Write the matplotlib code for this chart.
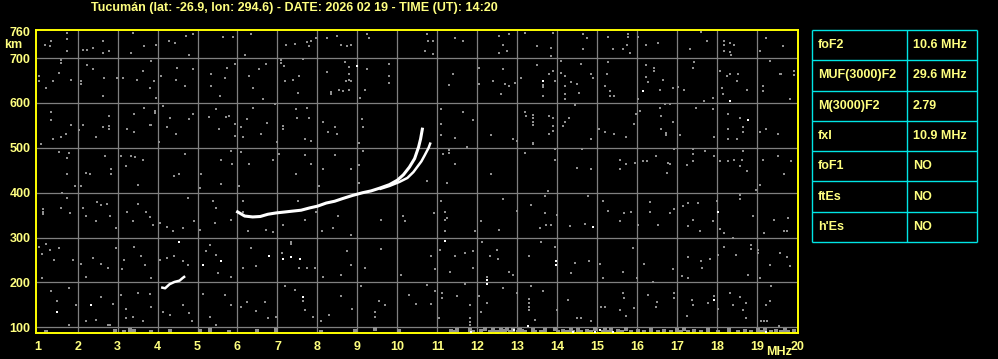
#!/usr/bin/env python3
"""
Ionogramm Tucumán: F2-Spur (O und X), E-Spur, Rauschpunkte und Parametertabelle.
Speichert das Bild als 'out.png'.
"""

import matplotlib
matplotlib.use('Agg')
import matplotlib.pyplot as plt

TITLE = "Tucumán (lat: -26.9, lon: 294.6) - DATE: 2026 02 19 - TIME (UT): 14:20"

freq_ticks = list(range(1, 21))
height_ticks = [100, 200, 300, 400, 500, 600, 700, 760]
grid_freqs = list(range(2, 20))
grid_heights = [100, 200, 300, 400, 500, 600, 700]

# F2-Spur, ordentliche Komponente (MHz, km)
o_mhz = [5.97, 6.18, 6.38, 6.57, 6.76, 6.97, 7.18, 7.38, 7.59, 7.80, 8.00, 8.22, 8.43,
         8.63, 8.88, 9.13, 9.34, 9.55, 9.80, 10.00, 10.15, 10.30, 10.43, 10.53, 10.58, 10.63]
o_km = [359, 348, 346, 347, 352, 355, 357, 359, 361, 366, 370, 377, 381,
        387, 394, 400, 404, 410, 418, 428, 440, 457, 476, 502, 520, 545]

# F2-Spur, ausserordentliche Komponente
x_mhz = [9.55, 9.80, 10.05, 10.25, 10.40, 10.50, 10.60, 10.68, 10.78, 10.83]
x_km = [408, 415, 424, 433, 446, 458, 470, 483, 500, 512]

# E-Spur
e_mhz = [4.09, 4.19, 4.30, 4.42, 4.55, 4.63, 4.69]
e_km = [189, 187, 196, 201, 204, 210, 214]

# Rauschpunkte (grau)
noise_points = [
    # 700-760 km
    (1.34, 738), (1.18, 730), (1.30, 727), (1.73, 756), (1.73, 742), (1.73, 716),
    (2.13, 719), (2.23, 719), (2.38, 723), (2.63, 738), (2.63, 712), (2.78, 717),
    (3.38, 756), (3.34, 712), (3.67, 727), (3.97, 730), (4.28, 738), (4.43, 734),
    (4.70, 749), (4.88, 753), (4.78, 708), (5.63, 747), (5.88, 747), (6.19, 708),
    (6.34, 753), (7.22, 730), (7.45, 732), (7.73, 736), (7.84, 739), (7.78, 727),
    (7.97, 745), (8.23, 744), (8.50, 749), (8.58, 730), (8.73, 726), (8.83, 730),
    (9.23, 753), (9.28, 744), (10.73, 753), (10.89, 738), (10.77, 739), (10.68, 717),
    (10.89, 710), (11.43, 745), (11.64, 739), (12.53, 749), (12.64, 730), (12.53, 712),
    (12.73, 717), (12.78, 753), (13.18, 756), (13.49, 727), (13.83, 723), (13.89, 756),
    (14.64, 753), (14.73, 744), (14.64, 721), (15.28, 747), (15.39, 721), (15.78, 753),
    (15.78, 746), (15.75, 730), (15.64, 721), (15.82, 712), (16.03, 747), (16.23, 730),
    (16.53, 734), (17.33, 721), (17.60, 759), (17.75, 738), (18.18, 739), (18.18, 729),
    (18.18, 717), (18.33, 734), (18.33, 714), (18.43, 730), (18.35, 708), (19.23, 744),
    (19.08, 717), (19.64, 727),
    # 600-700 km
    (1.03, 660), (1.03, 649), (1.38, 649), (1.53, 666), (1.20, 634), (1.58, 695),
    (1.58, 690), (1.84, 652), (2.09, 648), (2.09, 642), (2.23, 684), (2.38, 675),
    (2.67, 656), (2.63, 615), (2.98, 656), (3.13, 656), (3.49, 652), (3.63, 671),
    (3.80, 634), (3.92, 649), (3.84, 693), (3.97, 612), (4.09, 660), (4.48, 678),
    (4.45, 652), (4.69, 638), (4.88, 675), (5.34, 665), (5.34, 638), (5.68, 656),
    (5.73, 678), (5.55, 615), (5.94, 688), (6.28, 660), (6.40, 634), (6.53, 675),
    (6.72, 688), (6.65, 608), (7.09, 695), (7.09, 690), (7.17, 682), (7.19, 649),
    (7.38, 652), (7.53, 660), (7.63, 698), (7.51, 623), (8.23, 669), (8.34, 625),
    (8.34, 619), (8.55, 630), (8.70, 691), (8.78, 680), (8.80, 664), (8.80, 652),
    (8.84, 649), (8.72, 649), (8.65, 626), (8.78, 630), (9.07, 612), (9.20, 630),
    (9.24, 675), (9.78, 686), (9.78, 660), (9.78, 645), (11.39, 665), (11.28, 641),
    (12.03, 678), (12.03, 643), (12.39, 649), (12.70, 643), (12.78, 638), (12.58, 621),
    (12.64, 675), (12.93, 645), (13.10, 656), (13.50, 684), (13.64, 641), (13.64, 636),
    (13.64, 615), (13.78, 665), (13.89, 672), (13.95, 649), (13.84, 704), (14.08, 693),
    (14.08, 667), (14.18, 660), (14.33, 647), (14.18, 638), (14.18, 621), (14.18, 608),
    (14.50, 643), (14.53, 623), (14.58, 686), (14.83, 665), (14.89, 655), (15.18, 638),
    (15.28, 692), (15.24, 665), (15.33, 626), (15.31, 615), (15.43, 615), (16.03, 608),
    (16.23, 685), (16.23, 657), (16.27, 646), (16.43, 677), (16.43, 671), (16.64, 652),
    (16.58, 630), (16.89, 634), (17.03, 635), (17.18, 630), (17.43, 692), (17.39, 678),
    (17.68, 604), (17.89, 612), (18.08, 671), (18.12, 634), (18.14, 619), (18.25, 660),
    (18.33, 664), (18.50, 649), (18.53, 665), (18.75, 630), (19.14, 638), (19.14, 626),
    (19.33, 693), (19.56, 665), (19.60, 665), (19.83, 608), (19.93, 671), (19.93, 663),
    # 500-600 km
    (1.34, 580), (1.34, 563), (1.09, 509), (1.38, 519), (1.58, 524), (1.70, 531),
    (1.84, 550), (2.03, 539), (2.13, 550), (2.45, 524), (2.63, 546), (2.78, 548),
    (2.78, 543), (2.78, 571), (3.23, 541), (3.40, 576), (3.42, 536), (3.65, 589),
    (3.80, 552), (3.84, 550), (3.94, 583), (3.94, 578), (4.03, 513), (4.13, 594),
    (4.24, 546), (4.30, 567), (4.45, 531), (4.78, 565), (4.88, 576), (5.28, 568),
    (5.47, 586), (5.53, 541), (5.70, 568), (5.80, 571), (5.94, 554), (5.93, 527),
    (6.08, 546), (6.13, 524), (6.24, 565), (6.38, 589), (6.59, 531), (6.73, 556),
    (6.93, 597), (7.13, 548), (7.13, 543), (6.99, 513), (7.47, 586), (7.48, 567),
    (7.73, 589), (7.78, 567), (7.70, 519), (7.84, 515), (8.13, 558), (8.26, 536),
    (8.43, 546), (8.49, 531), (9.12, 565), (9.15, 546), (9.03, 511), (11.08, 586),
    (11.08, 554), (11.08, 528), (11.43, 523), (11.64, 580), (11.89, 563), (12.33, 528),
    (12.89, 519), (12.99, 515), (13.19, 580), (13.22, 571), (13.39, 574), (13.39, 566),
    (13.39, 558), (13.39, 550), (13.39, 511), (13.78, 571), (13.89, 567), (13.89, 548),
    (13.89, 537), (13.78, 530), (14.14, 548), (14.18, 558), (14.28, 567), (14.43, 595),
    (14.83, 519), (15.03, 541), (15.18, 536), (15.43, 531), (15.73, 524), (15.93, 554),
    (15.98, 576), (16.08, 583), (16.58, 589), (16.59, 571), (16.59, 541), (16.72, 534),
    (16.72, 528), (16.70, 597), (16.83, 597), (16.89, 558), (17.08, 528), (17.48, 589),
    (17.89, 586), (17.93, 524), (18.28, 576), (18.28, 541), (18.27, 519), (18.50, 519),
    (18.58, 567), (18.64, 546), (18.64, 535), (19.08, 536), (19.23, 541), (19.53, 530),
    # 400-500 km
    (1.53, 491), (1.78, 489), (1.73, 478), (1.73, 441), (2.20, 444), (2.32, 441),
    (2.68, 481), (2.84, 452), (2.84, 442), (3.09, 481), (3.22, 459), (3.34, 481),
    (3.43, 479), (3.63, 474), (4.40, 437), (4.53, 442), (4.69, 487), (5.09, 441),
    (5.59, 474), (5.84, 493), (5.87, 463), (6.08, 491), (6.30, 463), (6.90, 474),
    (7.03, 487), (7.47, 441), (7.70, 483), (7.84, 463), (8.13, 452), (8.43, 483),
    (8.84, 452), (9.03, 461), (9.15, 493), (11.28, 495), (11.28, 489), (11.14, 487),
    (11.43, 465), (11.75, 502), (12.33, 442), (13.19, 489), (13.39, 508), (13.93, 497),
    (13.93, 474), (14.50, 455), (14.62, 497), (14.83, 452), (15.58, 474), (15.58, 452),
    (15.73, 463), (15.95, 467), (16.14, 470), (16.24, 470), (16.47, 481), (16.78, 467),
    (16.81, 463), (16.74, 444), (16.93, 497), (17.24, 461), (17.39, 497), (17.39, 487),
    (17.39, 470), (17.70, 493), (17.93, 481), (18.08, 470), (18.27, 470), (18.41, 474),
    (18.61, 474), (18.64, 493), (18.58, 459), (18.75, 448), (19.14, 474), (19.51, 481),
    (19.84, 470), (19.68, 441),
    # 300-400 km
    (1.13, 364), (1.13, 358), (1.13, 352), (1.62, 399), (1.59, 366), (1.73, 388),
    (1.80, 355), (1.93, 416), (2.09, 416), (2.13, 367), (2.20, 347), (2.45, 336),
    (2.48, 379), (2.59, 372), (2.73, 374), (2.80, 349), (2.95, 321), (3.23, 358),
    (3.38, 336), (3.51, 418), (3.51, 375), (3.70, 358), (3.80, 345), (3.88, 329),
    (4.07, 332), (4.23, 323), (4.38, 315), (4.63, 321), (4.76, 388), (4.90, 336),
    (5.07, 317), (5.05, 410), (5.38, 382), (5.45, 367), (5.59, 419), (5.43, 332),
    (5.84, 340), (6.03, 414), (6.13, 381), (6.13, 358), (6.27, 315), (6.72, 317),
    (6.88, 312), (7.15, 329), (7.51, 382), (7.70, 340), (7.97, 358), (8.03, 414),
    (8.12, 315), (8.38, 321), (8.51, 349), (8.84, 306), (9.03, 422), (9.59, 340),
    (10.13, 347), (10.20, 337), (10.73, 427), (11.25, 422), (10.92, 355), (11.18, 358),
    (11.18, 340), (11.25, 344), (11.18, 314), (11.08, 382), (11.95, 314), (12.08, 338),
    (12.53, 317), (12.64, 387), (12.98, 360), (13.33, 373), (13.56, 321), (13.68, 355),
    (13.72, 329), (13.83, 329), (13.68, 392), (13.77, 404), (13.98, 351), (14.31, 325),
    (14.68, 330), (14.77, 392), (15.14, 382), (15.28, 360), (15.56, 336), (15.68, 355),
    (15.84, 358), (16.03, 329), (16.33, 379), (16.33, 358), (16.52, 329), (16.81, 355),
    (16.93, 364), (17.14, 370), (17.28, 377), (17.39, 340), (17.52, 377), (17.28, 325),
    (17.58, 315), (17.89, 338), (17.99, 381), (18.08, 319), (18.16, 311), (18.39, 300),
    (18.58, 396), (18.58, 387), (18.89, 347), (19.18, 311), (19.43, 340), (19.68, 314),
    (19.74, 314), (19.77, 344), (18.98, 407), (19.06, 418),
    # 200-300 km
    (1.03, 280), (1.12, 263), (1.20, 285), (1.32, 273), (1.53, 277), (1.40, 251),
    (1.12, 210), (1.88, 251), (2.09, 241), (2.20, 213), (2.38, 254), (2.59, 241),
    (2.76, 233), (2.95, 277), (3.12, 230), (3.17, 251), (3.42, 278), (3.58, 258),
    (3.68, 238), (3.83, 211), (4.07, 251), (4.23, 254), (4.40, 260), (4.63, 247),
    (4.76, 238), (5.22, 271), (5.30, 284), (5.47, 262), (5.51, 221), (5.84, 213),
    (6.13, 233), (6.34, 277), (6.47, 236), (7.34, 291), (7.34, 285), (7.12, 265),
    (7.55, 232), (7.73, 233), (7.93, 232), (8.13, 213), (8.60, 217), (8.73, 269),
    (8.84, 239), (9.18, 233), (9.59, 275), (10.08, 217), (10.83, 258), (10.93, 230),
    (11.06, 273), (11.31, 223), (11.43, 260), (11.68, 265), (11.89, 269), (11.89, 233),
    (12.12, 291), (12.23, 212), (12.31, 260), (12.49, 273), (12.51, 253), (12.78, 223),
    (12.88, 217), (13.28, 260), (13.60, 290), (13.94, 280), (14.43, 243), (14.33, 222),
    (14.78, 248), (15.06, 241), (15.14, 209), (15.64, 224), (15.89, 276), (15.99, 209),
    (16.18, 241), (16.39, 202), (16.89, 230), (17.12, 215), (17.28, 209), (17.28, 256),
    (17.59, 248), (17.63, 233), (17.81, 253), (18.03, 262), (18.18, 280), (18.48, 262),
    (18.76, 217), (18.84, 284), (18.84, 275), (19.02, 272), (19.02, 266), (19.08, 209),
    (19.33, 238), (19.56, 265), (19.74, 256), (19.83, 236),
    # 100-200 km
    (1.34, 180), (1.48, 159), (1.78, 187), (1.78, 106), (1.97, 150), (2.22, 113),
    (2.47, 117), (2.59, 167), (2.76, 106), (2.80, 106), (2.88, 152), (3.09, 171),
    (3.20, 141), (3.20, 120), (3.38, 124), (3.50, 176), (3.63, 115), (3.80, 174),
    (3.84, 146), (4.13, 135), (4.30, 128), (4.63, 150), (4.78, 132), (4.87, 115),
    (5.13, 174), (5.30, 124), (5.47, 106), (5.68, 172), (5.84, 150), (6.09, 146),
    (6.25, 156), (6.47, 137), (6.68, 156), (6.76, 120), (6.97, 122), (7.18, 191),
    (7.45, 184), (7.63, 158), (7.70, 139), (7.88, 124), (8.09, 115), (8.28, 128),
    (8.59, 169), (8.87, 141), (9.09, 193), (9.45, 135), (9.45, 122), (9.55, 158),
    (9.70, 149), (10.28, 172), (10.47, 152), (10.73, 195), (10.93, 180), (11.12, 176),
    (11.12, 165), (10.83, 152), (11.03, 120), (11.50, 169), (11.68, 196), (11.81, 150),
    (11.82, 120), (11.82, 112), (11.82, 105), (12.08, 135), (12.23, 155), (12.03, 169),
    (12.64, 187), (12.98, 176), (13.28, 162), (13.28, 154), (13.28, 146), (13.28, 139),
    (13.33, 191), (13.43, 117), (13.64, 180), (13.98, 139), (14.26, 161), (14.50, 120),
    (14.58, 120), (14.84, 115), (15.08, 146), (15.18, 146), (15.58, 139), (15.64, 176),
    (15.68, 165), (15.73, 126), (15.91, 143), (16.28, 172), (16.47, 146), (16.49, 156),
    (16.93, 176), (16.93, 165), (17.24, 126), (17.37, 161), (17.39, 150), (17.78, 154),
    (17.93, 169), (18.01, 141), (18.31, 176), (18.39, 150), (18.56, 167), (18.64, 139),
    (18.72, 154), (18.72, 120), (19.23, 149), (19.33, 158), (19.34, 191), (19.54, 104),
    (19.10, 113), (19.18, 113), (19.25, 113),
]

# Rauschen am unteren Rand (unter 100 km)
floor_mhz = [1.22, 2.93, 3.17, 3.30, 3.40, 3.84, 4.30, 5.07, 5.30, 5.80, 6.50, 6.97,
             8.10, 8.95, 9.45, 10.03, 11.33, 11.42, 11.50, 11.81, 11.89, 12.10, 12.18,
             12.31, 12.39, 12.48, 12.58, 12.64, 12.70, 12.75, 12.81, 12.90, 13.02, 13.07,
             13.12, 13.20, 13.39, 13.45, 13.58, 13.70, 13.95, 14.02, 14.14, 14.25, 14.33,
             14.40, 14.52, 14.60, 14.73, 14.85, 14.95, 15.14, 15.20, 15.27, 15.35, 15.52,
             15.62, 15.73, 15.85, 16.02, 16.18, 16.35, 16.52, 16.68, 16.85, 17.00, 17.10,
             17.18, 17.28, 17.43, 17.60, 17.77, 18.02, 18.30, 18.52, 18.70, 18.85, 19.02,
             19.10, 19.20, 19.35, 19.48, 19.60, 19.70, 19.77, 19.92]
floor_km = [89, 92, 90, 95, 92, 90, 92, 92, 95, 90, 92, 95,
            90, 92, 97, 92, 92, 89, 94, 95, 89, 92, 96,
            89, 93, 90, 95, 89, 92, 96, 90, 93, 89, 95,
            92, 89, 94, 90, 89, 93, 96, 90, 92, 89, 94,
            90, 95, 89, 92, 90, 96, 89, 93, 90, 95, 92,
            89, 96, 90, 92, 89, 95, 90, 92, 89, 94, 90,
            96, 89, 92, 90, 93, 89, 95, 90, 92, 89, 93,
            89, 95, 90, 92, 89, 94, 90, 92]

# Einzelne weisse Punkte
white_points = [
    (8.98, 682), (13.64, 649), (16.14, 626), (18.31, 604), (18.78, 563),
    (4.53, 291), (5.13, 238), (5.59, 248), (6.78, 260), (7.13, 253), (7.34, 256),
    (7.56, 253), (7.63, 167), (1.48, 135), (2.34, 149), (11.18, 293), (14.89, 323),
    (18.02, 356), (12.23, 196), (12.23, 205), (13.97, 248), (13.97, 238), (17.93, 161),
    (11.83, 90), (12.92, 95), (13.27, 103), (14.39, 90), (14.93, 90), (15.06, 95),
    (15.39, 90), (19.23, 90),
]

# Parametertabelle
param_names = ['foF2', 'MUF(3000)F2', 'M(3000)F2', 'fxI', 'foF1', 'ftEs', "h'Es"]
param_values = ['10.6 MHz', '29.6 MHz', '2.79', '10.9 MHz', 'NO', 'NO', 'NO']

TXT = '#ffff80'
YEL = '#ffff00'
CYAN = '#00e5e5'
GRID = '#808080'
NOISE = '#909090'
FONT = 'Liberation Sans'

W, H = 998, 359
fig = plt.figure(figsize=(W / 100, H / 100), dpi=100, facecolor='black')
ax = fig.add_axes([36 / W, 26 / H, 762 / W, 303 / H])
ax.set_facecolor('black')
ax.set_xlim(0.96, 20.02)
ax.set_ylim(87.3, 762.7)

# Gitter
ax.vlines(grid_freqs, 87.3, 762.7, color=GRID, lw=0.9, zorder=1)
ax.hlines(grid_heights, 0.96, 20.02, color=GRID, lw=0.9, zorder=1)

# Rauschen
nf = [p[0] for p in noise_points]
nh = [p[1] for p in noise_points]
ax.plot(nf, nh, 's', ms=2.0, mew=0, color=NOISE, zorder=2)
ax.plot(floor_mhz, floor_km, 's', ms=2.2, mew=0, color=NOISE, zorder=2)
wf = [p[0] for p in white_points]
wh = [p[1] for p in white_points]
ax.plot(wf, wh, 's', ms=2.0, mew=0, color='white', zorder=3)

# Spuren
ax.plot(o_mhz, o_km, color='white', lw=2.2, solid_capstyle='butt', zorder=4)
ax.plot(x_mhz, x_km, color='white', lw=1.8, solid_capstyle='butt', zorder=4)
ax.plot(e_mhz, e_km, color='white', lw=1.8, solid_capstyle='butt', zorder=4)

# Achsen
for s in ax.spines.values():
    s.set_color(YEL)
    s.set_linewidth(1.4)
ax.set_xticks(freq_ticks)
ax.set_xticklabels([str(f) for f in freq_ticks])
ax.set_yticks(height_ticks)
ax.set_yticklabels([str(h) for h in height_ticks])
ax.tick_params(length=0, colors=TXT, labelsize=9)
ax.tick_params(axis='x', pad=6)
ax.tick_params(axis='y', pad=4)
for lab in ax.get_xticklabels() + ax.get_yticklabels():
    lab.set_fontfamily(FONT)
    lab.set_fontweight('bold')

fig.text(13 / W, 1 - 45 / H, 'km', color=TXT, fontsize=9, fontweight='bold',
         family=FONT, ha='center', va='center')
fig.text(779 / W, 1 - 352 / H, 'MHz', color=TXT, fontsize=9, fontweight='bold',
         family=FONT, ha='center', va='center')
fig.text(294 / W, 1 - 8 / H, TITLE, color=TXT, fontsize=9, fontweight='bold',
         family=FONT, ha='center', va='center')

# Tabelle
tab = fig.add_axes([812 / W, 117 / H, 165 / W, 212 / H])
tab.set_xlim(0, 1)
tab.set_ylim(len(param_names), 0)
tab.axis('off')
tab.hlines(range(len(param_names) + 1), 0, 1, color=CYAN, lw=1.0, clip_on=False)
tab.vlines([0, 0.576, 1], 0, len(param_names), color=CYAN, lw=1.0, clip_on=False)
for i, (n, v) in enumerate(zip(param_names, param_values)):
    tab.text(0.036, i + 0.5, n, color=TXT, fontsize=9, fontweight='bold',
             family=FONT, ha='left', va='center')
    tab.text(0.612, i + 0.5, v, color=TXT, fontsize=9, fontweight='bold',
             family=FONT, ha='left', va='center')

fig.savefig('out.png', dpi=100, facecolor='black')
